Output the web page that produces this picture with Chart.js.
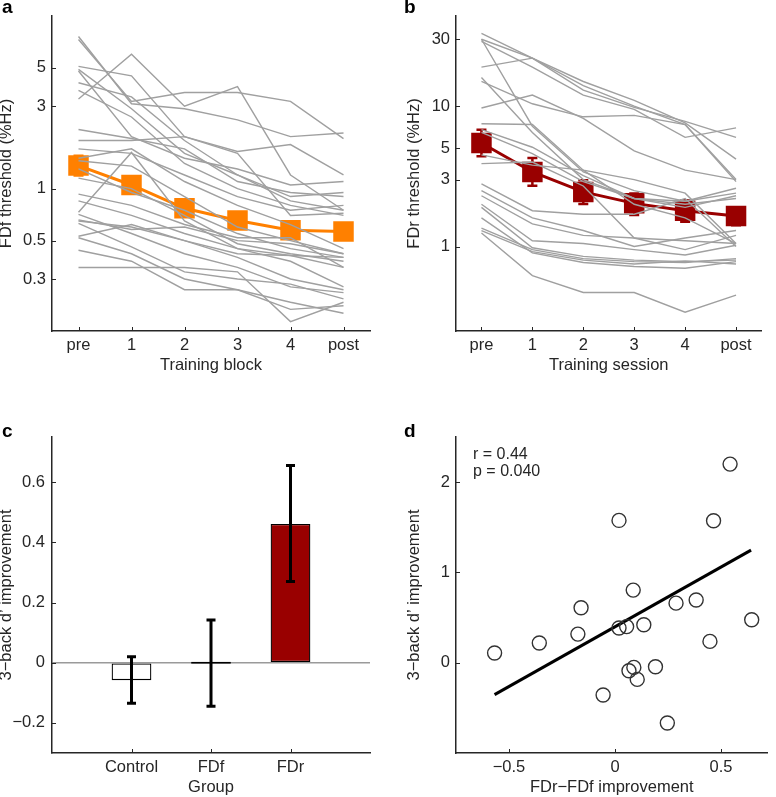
<!DOCTYPE html>
<html>
<head>
<meta charset="utf-8">
<script src="https://cdn.jsdelivr.net/npm/chart.js@4.4.0/dist/chart.umd.min.js"></script>
<style>
  body { margin: 0; background: #fff; width: 776px; height: 797px; position: relative; overflow: hidden;
         font-family: 'Liberation Sans', Arial, sans-serif; }
  canvas { position: absolute; }
  .panel { position: absolute; font-weight: bold; font-size: 19px; line-height: 1; color: #000; }
  .note { position: absolute; font-size: 16px; line-height: 1; color: #262626; white-space: nowrap; }
</style>
</head>
<body>
<canvas id="chartA" width="388" height="378" style="left:0;top:0"></canvas>
<canvas id="chartB" width="386" height="378" style="left:390px;top:0"></canvas>
<canvas id="chartC" width="388" height="417" style="left:0;top:380px"></canvas>
<canvas id="chartD" width="386" height="417" style="left:390px;top:380px"></canvas>
<div class="panel" style="left:2px;top:-3px">a</div>
<div class="panel" style="left:404px;top:-3px">b</div>
<div class="panel" style="left:2px;top:421px">c</div>
<div class="panel" style="left:404px;top:421px">d</div>
<div class="note" style="left:473px;top:446px">r = 0.44</div>
<div class="note" style="left:473px;top:463px">p = 0.040</div>
<script>
// ---- data ----
const sessionLabels = ['pre', '1', '2', '3', '4', 'post'];

// panel a: FDf threshold (%Hz), one row per participant
const fdfSubjects = [
  [7.6, 3.1, 2.9, 2.5, 2.0, 2.1],
  [7.3, 3.2, 3.6, 3.6, 3.2, 1.95],
  [3.3, 6.0, 3.0, 3.9, 1.2, 0.75],
  [5.1, 4.5, 2.0, 1.64, 1.8, 1.2],
  [4.9, 2.9, 1.6, 1.2, 0.85, 0.75],
  [4.8, 2.0, 1.5, 1.3, 1.05, 1.1],
  [4.1, 3.4, 1.9, 1.2, 0.9, 0.95],
  [3.7, 2.6, 1.4, 1.0, 0.8, 0.7],
  [2.2, 1.95, 1.7, 1.1, 0.95, 0.9],
  [1.9, 1.9, 2.0, 1.6, 0.7, 0.72],
  [1.7, 1.6, 1.2, 0.9, 0.75, 0.8],
  [1.5, 1.7, 1.1, 0.8, 0.62, 0.45],
  [1.45, 1.35, 0.9, 0.6, 0.5, 0.42],
  [1.3, 0.95, 0.75, 0.55, 0.45, 0.4],
  [1.15, 1.0, 0.7, 0.48, 0.42, 0.38],
  [0.93, 0.8, 0.62, 0.52, 0.52, 0.35],
  [0.85, 0.7, 0.55, 0.45, 0.41, 0.4],
  [0.73, 1.62, 0.65, 0.45, 0.38, 0.27],
  [0.71, 0.55, 0.42, 0.35, 0.27, 0.25],
  [0.65, 0.6, 0.5, 0.42, 0.41, 0.35],
  [0.63, 0.46, 0.33, 0.3, 0.28, 0.23],
  [0.53, 0.62, 0.5, 0.4, 0.3, 0.26],
  [0.52, 0.42, 0.3, 0.26, 0.2, 0.21],
  [0.44, 0.38, 0.26, 0.26, 0.22, 0.19],
  [0.35, 0.35, 0.35, 0.33, 0.17, 0.22],
  [0.66, 0.58, 0.6, 0.5, 0.48, 0.42]
];
const fdfMean = [1.36, 1.05, 0.77, 0.655, 0.575, 0.565];
const fdfLow  = [1.19, 0.94, 0.69, 0.59, 0.52, 0.51];
const fdfHigh = [1.55, 1.17, 0.86, 0.73, 0.63, 0.62];

// panel b: FDr threshold (%Hz)
const fdrSubjects = [
  [33, 22, 15, 11, 7.6, 4.2],
  [30, 22, 13, 9.8, 7.8, 6.0],
  [29, 19, 12, 9.5, 6.0, 7.0],
  [19, 22, 14, 10, 7.4, 3.0],
  [30, 7.2, 3.4, 2.5, 2.1, 2.4],
  [16, 6.5, 3.0, 2.2, 2.0, 2.2],
  [15, 10.4, 8.4, 8.6, 7.4, 2.9],
  [9.7, 12, 8.2, 4.8, 3.5, 3.0],
  [7.5, 7.4, 3.5, 3.0, 2.4, 1.05],
  [6.8, 5.1, 3.2, 2.2, 2.1, 2.6],
  [6.5, 4.6, 2.9, 2.2, 1.9, 2.3],
  [4.5, 3.8, 3.5, 2.0, 1.6, 1.05],
  [3.9, 4.0, 2.7, 1.15, 0.95, 1.2],
  [2.8, 1.8, 1.7, 1.7, 2.2, 1.0],
  [2.5, 1.6, 1.3, 1.0, 1.15, 1.3],
  [2.3, 1.45, 1.2, 1.15, 1.1, 1.05],
  [2.0, 1.1, 1.05, 0.95, 0.87, 1.02],
  [1.9, 0.98, 0.85, 0.8, 0.78, 0.8],
  [1.6, 0.9, 0.77, 0.72, 0.7, 0.78],
  [1.35, 0.95, 0.82, 0.78, 0.77, 0.82],
  [1.3, 0.92, 0.8, 0.75, 0.79, 0.75],
  [1.25, 0.62, 0.47, 0.47, 0.34, 0.45]
];
const fdrMean = [5.47, 3.4, 2.45, 2.03, 1.8, 1.65];
const fdrLow  = [4.4, 2.71, 2.01, 1.68, 1.5, 1.42];
const fdrHigh = [6.8, 4.28, 2.97, 2.39, 2.14, 1.9];

// panel c: 3-back d' improvement by group
const groups = ['Control', 'FDf', 'FDr'];
const groupMeans = [-0.058, 0, 0.461];
const groupLow  = [-0.135, -0.145, 0.27];
const groupHigh = [0.02, 0.142, 0.655];

// panel d: FDr-FDf improvement vs 3-back d' improvement
const improveX = [0.543, 0.019, 0.465, 0.086, -0.160, 0.288, 0.383, 0.645, 0.019, 0.055, 0.136,
                  -0.175, -0.357, -0.568, 0.448, 0.089, 0.066, 0.191, 0.105, -0.056, 0.247];
const improveY = [2.20, 1.576, 1.572, 0.804, 0.609, 0.66, 0.694, 0.476, 0.384, 0.40, 0.42,
                  0.317, 0.218, 0.107, 0.236, -0.052, -0.089, -0.044, -0.185, -0.358, -0.668];
const fitX = [-0.568, 0.642];
const fitY = [-0.354, 1.247];

// ---- shared styling ----
const axisColor = '#262626';
const font = { family: "'Liberation Sans', Arial, sans-serif", size: 16.5 };
const minus = v => String(v).replace('-', '\u2212');

function fixedTicks(values) {
  return scale => { scale.ticks = values.map(v => ({ value: v })); };
}

// small MATLAB-style ticks pointing into the plot
const innerTicks = {
  id: 'innerTicks',
  afterDraw(chart) {
    const { ctx, chartArea: a, scales: { x, y } } = chart;
    ctx.save();
    ctx.strokeStyle = axisColor;
    ctx.lineWidth = 1;
    x.ticks.forEach((t, i) => {
      const px = Math.round(x.getPixelForTick(i)) + 0.5;
      ctx.beginPath(); ctx.moveTo(px, a.bottom); ctx.lineTo(px, a.bottom - 4); ctx.stroke();
    });
    y.ticks.forEach((t, i) => {
      const py = Math.round(y.getPixelForTick(i)) + 0.5;
      ctx.beginPath(); ctx.moveTo(a.left, py); ctx.lineTo(a.left + 4, py); ctx.stroke();
    });
    ctx.restore();
  }
};

function drawErrors(chart, xs, lows, highs, color, width, cap) {
  const { ctx, scales: { x, y } } = chart;
  ctx.save();
  ctx.strokeStyle = color;
  ctx.lineWidth = width;
  xs.forEach((xv, i) => {
    const px = x.getPixelForValue(xv);
    const lo = y.getPixelForValue(lows[i]);
    const hi = y.getPixelForValue(highs[i]);
    ctx.beginPath();
    ctx.moveTo(px, lo); ctx.lineTo(px, hi);
    ctx.moveTo(px - cap, lo); ctx.lineTo(px + cap, lo);
    ctx.moveTo(px - cap, hi); ctx.lineTo(px + cap, hi);
    ctx.stroke();
  });
  ctx.restore();
}

// error bars drawn just before the mean line so they sit under the squares
function meanErrorPlugin(lows, highs, color, meanIndex) {
  return {
    id: 'meanErrors',
    beforeDatasetDraw(chart, args) {
      if (args.index !== meanIndex) return;
      drawErrors(chart, sessionLabels.map((l, i) => i), lows, highs, color, 2.5, 5);
    }
  };
}

function sessionChart(id, subjects, mean, lows, highs, color, yMin, yMax, yTicks, xTitle, yTitle, pad, yWidth, yTitlePad) {
  const datasets = subjects.map(row => ({
    data: row,
    borderColor: '#a0a0a0',
    borderWidth: 1.4,
    pointRadius: 0,
    tension: 0
  }));
  datasets.push({
    data: mean,
    borderColor: color,
    backgroundColor: color,
    borderWidth: 3,
    pointStyle: 'rect',
    pointRadius: 14.5,
    pointBorderWidth: 0,
    pointBackgroundColor: color
  });
  return new Chart(document.getElementById(id), {
    type: 'line',
    data: { labels: sessionLabels, datasets },
    options: {
      responsive: false,
      animation: false,
      layout: { padding: pad },
      plugins: { legend: { display: false }, tooltip: { enabled: false } },
      scales: {
        x: {
          type: 'category',
          offset: true,
          grid: { display: false, drawTicks: false },
          border: { display: true, color: axisColor, width: 1.5 },
          ticks: { color: axisColor, font, padding: 5, maxRotation: 0 },
          title: { display: true, text: xTitle, color: axisColor, font, padding: { top: 0, bottom: 3 } },
          afterFit: s => { s.height = 47; }
        },
        y: {
          type: 'logarithmic',
          min: yMin,
          max: yMax,
          grid: { display: false, drawTicks: false },
          border: { display: true, color: axisColor, width: 1.5 },
          ticks: { color: axisColor, font, padding: 6, callback: v => String(v) },
          afterBuildTicks: fixedTicks(yTicks),
          title: { display: true, text: yTitle, color: axisColor, font, padding: { top: yTitlePad, bottom: 0 } },
          afterFit: s => { s.width = yWidth; }
        }
      }
    },
    plugins: [meanErrorPlugin(lows, highs, color, subjects.length), innerTicks]
  });
}

sessionChart('chartA', fdfSubjects, fdfMean, fdfLow, fdfHigh, '#ff8000', 0.15, 10, [0.3, 0.5, 1, 3, 5],
  'Training block', 'FDf threshold (%Hz)', { top: 15, right: 18, left: 0, bottom: 0 }, 52, -3);

sessionChart('chartB', fdrSubjects, fdrMean, fdrLow, fdrHigh, '#990000', 0.25, 44, [1, 3, 5, 10, 30],
  'Training session', 'FDr threshold (%Hz)', { top: 15, right: 6, left: 16, bottom: 0 }, 50, -1);

// panel c: bar chart on a numeric x axis so the groups sit at 1, 2, 3
const barErrors = {
  id: 'barErrors',
  afterDatasetsDraw(chart) {
    drawErrors(chart, groups.map((g, i) => i + 1), groupLow, groupHigh, '#000', 3, 4.5);
  }
};

new Chart(document.getElementById('chartC'), {
  type: 'bar',
  data: {
    datasets: [{
      data: groups.map((g, i) => ({ x: i + 1, y: groupMeans[i] })),
      backgroundColor: ['#ffffff', '#ffffff', '#990000'],
      borderColor: '#000',
      borderWidth: 1.3,
      borderSkipped: false,
      minBarLength: 2,
      barPercentage: 0.5,
      categoryPercentage: 1
    }]
  },
  options: {
    responsive: false,
    animation: false,
    layout: { padding: { top: 57, right: 18, left: 0, bottom: 0 } },
    plugins: { legend: { display: false }, tooltip: { enabled: false } },
    scales: {
      x: {
        type: 'linear',
        min: 0,
        max: 4,
        offset: false,
        grid: { display: false, drawTicks: false },
        border: { display: true, color: axisColor, width: 1.5 },
        ticks: { color: axisColor, font, padding: 5, maxRotation: 0, callback: v => groups[v - 1] || '' },
        afterBuildTicks: fixedTicks([1, 2, 3]),
        title: { display: true, text: 'Group', color: axisColor, font, padding: { top: 0, bottom: 0 } },
        afterFit: s => { s.height = 44; }
      },
      y: {
        min: -0.3,
        max: 0.75,
        grid: {
          display: true,
          drawTicks: false,
          lineWidth: 1.5,
          color: c => (c.tick && c.tick.value === 0 ? '#9a9a9a' : 'rgba(0,0,0,0)')
        },
        border: { display: true, color: axisColor, width: 1.5 },
        ticks: { color: axisColor, font, padding: 7, callback: v => minus(v) },
        afterBuildTicks: fixedTicks([-0.2, 0, 0.2, 0.4, 0.6]),
        title: { display: true, text: '3\u2212back d\u2019 improvement', color: axisColor, font, padding: { top: -3, bottom: 0 } },
        afterFit: s => { s.width = 52; }
      }
    }
  },
  plugins: [barErrors, innerTicks]
});

// panel d: scatter with fitted line
new Chart(document.getElementById('chartD'), {
  type: 'scatter',
  data: {
    datasets: [
      {
        data: improveX.map((x, i) => ({ x, y: improveY[i] })),
        pointRadius: 7,
        pointBorderWidth: 1.4,
        pointBorderColor: '#333',
        pointBackgroundColor: 'rgba(0,0,0,0)'
      },
      {
        type: 'line',
        data: fitX.map((x, i) => ({ x, y: fitY[i] })),
        borderColor: '#000',
        borderWidth: 3,
        pointRadius: 0
      }
    ]
  },
  options: {
    responsive: false,
    animation: false,
    layout: { padding: { top: 57, right: 6, left: 16, bottom: 0 } },
    plugins: { legend: { display: false }, tooltip: { enabled: false } },
    scales: {
      x: {
        type: 'linear',
        min: -0.75,
        max: 0.72,
        grid: { display: false, drawTicks: false },
        border: { display: true, color: axisColor, width: 1.5 },
        ticks: { color: axisColor, font, padding: 5, maxRotation: 0, callback: v => minus(v) },
        afterBuildTicks: fixedTicks([-0.5, 0, 0.5]),
        title: { display: true, text: 'FDr\u2212FDf improvement', color: axisColor, font, padding: { top: 0, bottom: 0 } },
        afterFit: s => { s.height = 44; }
      },
      y: {
        min: -1,
        max: 2.5,
        grid: { display: false, drawTicks: false },
        border: { display: true, color: axisColor, width: 1.5 },
        ticks: { color: axisColor, font, padding: 6, callback: v => minus(v) },
        afterBuildTicks: fixedTicks([0, 1, 2]),
        title: { display: true, text: '3\u2212back d\u2019 improvement', color: axisColor, font, padding: { top: -1, bottom: 0 } },
        afterFit: s => { s.width = 50; }
      }
    }
  },
  plugins: [innerTicks]
});
</script>
</body>
</html>
